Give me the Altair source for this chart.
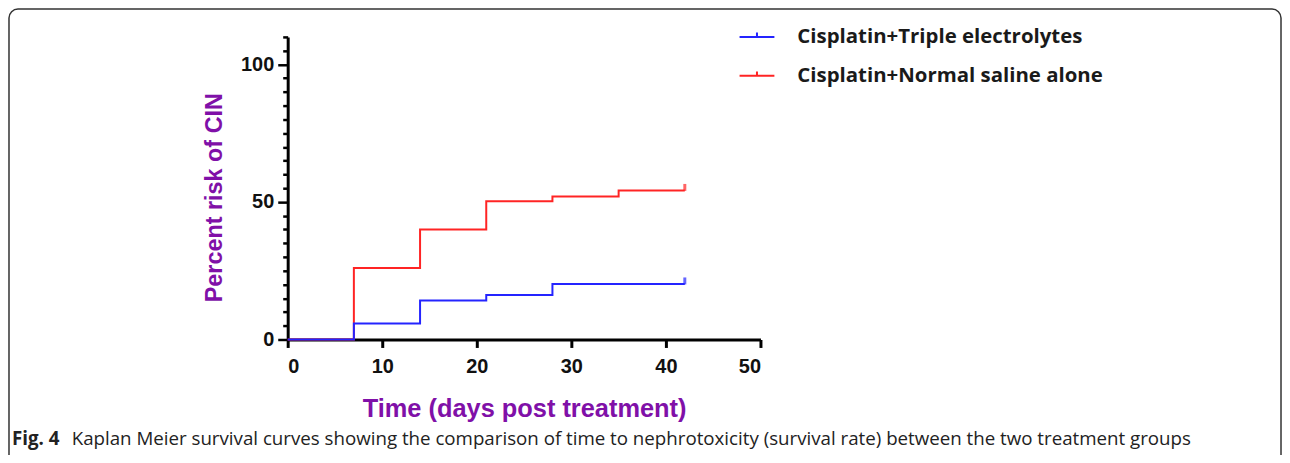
import altair as alt
import pandas as pd

# ---- data ----
times = [0, 7, 14, 21, 28, 35, 42]
saline_risk = [0, 26.0, 40.0, 50.3, 52.0, 54.2, 54.2]      # Cisplatin+Normal saline alone
triple_risk = [0, 5.8, 14.2, 16.2, 20.2, 20.2, 20.2]       # Cisplatin+Triple electrolytes
groups = ["Cisplatin+Triple electrolytes", "Cisplatin+Normal saline alone"]
colors = ["#2424ff", "#ff2424"]
x_ticks = [0, 10, 20, 30, 40, 50]
y_ticks = list(range(0, 111, 5))
censor_time = 42
caption_bold = "Fig. 4"
caption_rest = ("Kaplan Meier survival curves showing the comparison of time to nephrotoxicity "
                "(survival rate) between the two treatment groups")
purple = "#8010a8"

rows = []
for t, v in zip(times, triple_risk):
    rows.append({"time": t, "risk": v, "group": groups[0]})
for t, v in zip(times, saline_risk):
    rows.append({"time": t, "risk": v, "group": groups[1]})
df = pd.DataFrame(rows)
censor = pd.DataFrame({
    "time": [censor_time, censor_time],
    "risk": [triple_risk[-1], saline_risk[-1]],
    "group": groups,
})
one = pd.DataFrame({"k": [0]})

color_scale = alt.Scale(domain=groups, range=colors)
x_enc = alt.X("time:Q", scale=alt.Scale(domain=[0, 50], nice=False),
              axis=alt.Axis(values=x_ticks, title="Time (days post treatment)",
                            tickSize=8, tickWidth=3, tickColor="black",
                            domainWidth=3, domainColor="black",
                            labelFont="Liberation Sans", labelFontSize=20, labelFontWeight="bold",
                            labelColor="#111", labelPadding=9, grid=False,
                            titleFont="Liberation Sans", titleFontSize=25.5, titleFontWeight="bold",
                            titleColor=purple, titlePadding=20))
y_enc = alt.Y("risk:Q", scale=alt.Scale(domain=[0, 110], nice=False),
              axis=alt.Axis(values=y_ticks, title="Percent risk of CIN",
                            labelExpr="datum.value % 50 === 0 ? datum.label : ''",
                            tickSize={"condition": {"test": "datum.value % 50 === 0", "value": 10}, "value": 5},
                            tickWidth=2.5, tickColor="black",
                            domainWidth=3, domainColor="black",
                            labelFont="Liberation Sans", labelFontSize=20, labelFontWeight="bold",
                            labelColor="#111", labelPadding=4, grid=False,
                            titleFont="Liberation Sans", titleFontSize=23.5, titleFontWeight="bold",
                            titleColor=purple, titlePadding=14, titleY=161))

legend = alt.Legend(orient="none", legendX=453, legendY=-18.5, title=None, padding=0,
                    symbolType="M-1,0H1M0,0V-0.25", symbolSize=1225, symbolStrokeWidth=2,
                    labelFont="Open Sans", labelFontSize=20.5, labelFontWeight="bold", labelLimit=0,
                    labelColor="#1a1a1a", labelOffset=22, rowPadding=10)

red_line = alt.Chart(df).transform_filter(alt.datum.group == groups[1]).mark_line(
    interpolate="step-after", strokeWidth=2).encode(
    x=x_enc, y=y_enc, color=alt.Color("group:N", scale=color_scale, legend=legend))
blue_line = alt.Chart(df).transform_filter(alt.datum.group == groups[0]).mark_line(
    interpolate="step-after", strokeWidth=2).encode(
    x=x_enc, y=y_enc, color=alt.Color("group:N", scale=color_scale, legend=legend))
ticks = alt.Chart(censor).mark_tick(orient="vertical", size=7, thickness=3, yOffset=-3).encode(
    x=x_enc, y=y_enc, color=alt.Color("group:N", scale=color_scale, legend=None))

border = alt.Chart(one).mark_rect(fillOpacity=0, stroke="#333333", strokeWidth=1.5,
                                  cornerRadius=9).encode(
    x=alt.value(-280), x2=alt.value(998), y=alt.value(-28), y2=alt.value(470))
cap1 = alt.Chart(one).mark_text(text=caption_bold, font="Open Sans", fontSize=18.8,
                                fontWeight="bold", align="left", baseline="alphabetic",
                                color="#222222").encode(x=alt.value(-277), y=alt.value(410))
cap2 = alt.Chart(one).mark_text(text=caption_rest, font="Open Sans", fontSize=18.8,
                                align="left", baseline="alphabetic",
                                color="#222222").encode(x=alt.value(-217), y=alt.value(410))

chart = alt.layer(border, red_line, blue_line, ticks, cap1, cap2).properties(
    width=475, height=304,
    background="white",
    autosize=alt.AutoSizeParams(type="none"),
    padding={"left": 281, "top": 28, "right": 524, "bottom": 115},
).configure_view(strokeWidth=0, stroke=None)

chart.save("out.html", embed_options={"renderer": "svg", "actions": False})
